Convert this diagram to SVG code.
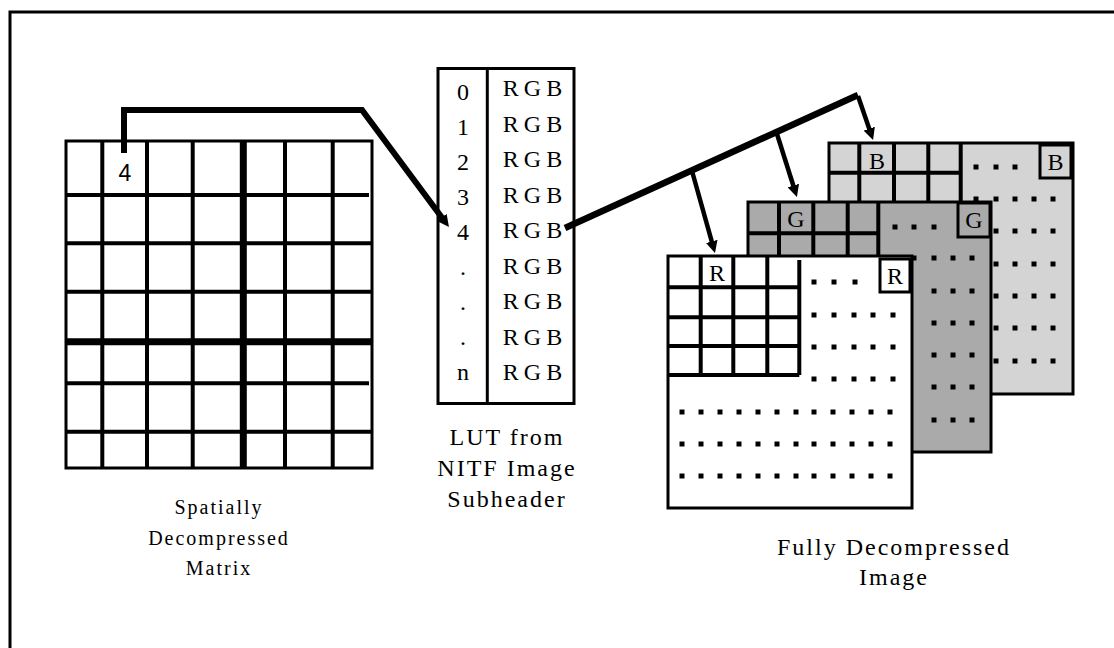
<svg xmlns="http://www.w3.org/2000/svg" width="1114" height="648" viewBox="0 0 1114 648">
<style>
.ser{font-family:"Liberation Serif","Times New Roman",serif;font-size:24px;fill:#000;text-anchor:middle}
.cap{letter-spacing:2px}
.sm{font-size:20px}
.rgb{letter-spacing:5px}
.grid{stroke:#000;stroke-width:4;fill:none}
.thick{stroke:#000;stroke-width:7;fill:none}
.box{stroke:#000;stroke-width:3}
.conn{stroke:#000;fill:none;stroke-linejoin:miter}
.dot{fill:#000}
</style>
<defs>
<marker id="ah" markerUnits="userSpaceOnUse" markerWidth="12" markerHeight="12" refX="1" refY="6" orient="auto">
<path d="M0,0 L12,6 L0,12 z" fill="#000"/>
</marker>
<rect id="d" width="5" height="5" x="-2.5" y="-2.5"/>
</defs>
<rect width="1114" height="648" fill="#fff"/>
<path d="M10,648 V12 H1114" fill="none" stroke="#000" stroke-width="3"/>

<g id="matrix">
<rect x="66" y="141" width="306" height="327" fill="#fff" stroke="#000" stroke-width="3"/>
<path class="grid" d="M102.3,141V468M147,141V468M192.7,141V468M285,141V468M332.7,141V468M66,195H369M66,243.3H372M66,291.7H372M66,383.3H369M66,431.7H372"/>
<path class="thick" d="M243.3,141V468M66,341.7H372"/>
<text x="125" y="181" style="font-family:'Liberation Sans',Arial,sans-serif;font-size:23px" text-anchor="middle">4</text>
<text class="ser cap sm" x="219" y="514">Spatially</text>
<text class="ser cap sm" x="219" y="545">Decompressed</text>
<text class="ser cap sm" x="219" y="575">Matrix</text>
</g>

<g id="lut">
<rect x="438" y="68.5" width="136" height="335" fill="#fff" stroke="#000" stroke-width="3"/>
<line x1="487.3" y1="68.5" x2="487.3" y2="403.5" stroke="#000" stroke-width="3"/>
<g class="ser">
<text x="463" y="100">0</text><text x="463" y="135">1</text><text x="463" y="170">2</text><text x="463" y="205">3</text><text x="463" y="240">4</text><text x="463" y="275">.</text><text x="463" y="310">.</text><text x="463" y="345">.</text><text x="463" y="380">n</text>
</g>
<g class="ser rgb">
<text x="535" y="96">RGB</text><text x="535" y="131.5">RGB</text><text x="535" y="167">RGB</text><text x="535" y="202.5">RGB</text><text x="535" y="238">RGB</text><text x="535" y="273.5">RGB</text><text x="535" y="309">RGB</text><text x="535" y="344.5">RGB</text><text x="535" y="380">RGB</text>
</g>
<text class="ser cap" x="507" y="445">LUT from</text>
<text class="ser cap" x="507" y="476">NITF Image</text>
<text class="ser cap" x="507" y="507">Subheader</text>
</g>

<g id="layerB">
<rect x="829" y="143" width="244" height="251" fill="#d4d4d4" class="box"/>
<path class="grid" d="M859.3,143V202M894,143V202M928.3,143V202M960.7,143V202M829,172.7H960.7"/>
<text class="ser" x="877" y="169">B</text>
<rect x="1040" y="145" width="31" height="33" fill="#d4d4d4" class="box"/>
<text class="ser" x="1055.5" y="170">B</text>
<g class="dot">
<use href="#d" x="976" y="167"/><use href="#d" x="996" y="167"/><use href="#d" x="1015" y="167"/>
<use href="#d" x="976" y="199"/><use href="#d" x="996" y="199"/><use href="#d" x="1015" y="199"/><use href="#d" x="1034" y="199"/><use href="#d" x="1053" y="199"/>
<use href="#d" x="996" y="231"/><use href="#d" x="1015" y="231"/><use href="#d" x="1034" y="231"/><use href="#d" x="1053" y="231"/>
<use href="#d" x="996" y="264"/><use href="#d" x="1015" y="264"/><use href="#d" x="1034" y="264"/><use href="#d" x="1053" y="264"/>
<use href="#d" x="996" y="296"/><use href="#d" x="1015" y="296"/><use href="#d" x="1034" y="296"/><use href="#d" x="1053" y="296"/>
<use href="#d" x="996" y="328"/><use href="#d" x="1015" y="328"/><use href="#d" x="1034" y="328"/><use href="#d" x="1053" y="328"/>
<use href="#d" x="996" y="361"/><use href="#d" x="1015" y="361"/><use href="#d" x="1034" y="361"/><use href="#d" x="1053" y="361"/>
</g>
</g>

<g id="layerG">
<rect x="748" y="202" width="243" height="250" fill="#aaaaaa" class="box"/>
<path class="grid" d="M779,202V256.7M813.3,202V256.7M847.7,202V256.7M878.3,202V256.7M748,233.3H878.3"/>
<text class="ser" x="796" y="227">G</text>
<rect x="958" y="203" width="32" height="34" fill="#aaaaaa" class="box"/>
<text class="ser" x="974" y="228">G</text>
<g class="dot">
<use href="#d" x="895" y="227"/><use href="#d" x="914" y="227"/><use href="#d" x="934" y="227"/>
<use href="#d" x="914" y="258"/><use href="#d" x="934" y="258"/><use href="#d" x="953" y="258"/><use href="#d" x="972" y="258"/>
<use href="#d" x="934" y="291"/><use href="#d" x="953" y="291"/><use href="#d" x="972" y="291"/>
<use href="#d" x="934" y="323"/><use href="#d" x="953" y="323"/><use href="#d" x="972" y="323"/>
<use href="#d" x="934" y="355"/><use href="#d" x="953" y="355"/><use href="#d" x="972" y="355"/>
<use href="#d" x="934" y="387"/><use href="#d" x="953" y="387"/><use href="#d" x="972" y="387"/>
<use href="#d" x="934" y="420"/><use href="#d" x="953" y="420"/><use href="#d" x="972" y="420"/>
</g>
</g>

<g id="layerR">
<rect x="668" y="256" width="244" height="252" fill="#fff" class="box"/>
<path class="grid" d="M700.7,256V375M733.3,256V375M767.3,256V375M799.3,260V375M668,287.3H799.3M668,317.3H799.3M668,346H799.3M668,375H799.3"/>
<text class="ser" x="717" y="281">R</text>
<rect x="880" y="259" width="30" height="33" fill="#fff" class="box"/>
<text class="ser" x="895" y="284">R</text>
<g class="dot">
<use href="#d" x="814" y="282"/><use href="#d" x="834" y="282"/><use href="#d" x="855" y="282"/>
<use href="#d" x="814" y="315"/><use href="#d" x="834" y="315"/><use href="#d" x="854" y="315"/><use href="#d" x="873" y="315"/><use href="#d" x="893" y="315"/>
<use href="#d" x="814" y="347"/><use href="#d" x="834" y="347"/><use href="#d" x="854" y="347"/><use href="#d" x="873" y="347"/><use href="#d" x="893" y="347"/>
<use href="#d" x="814" y="379"/><use href="#d" x="834" y="379"/><use href="#d" x="854" y="379"/><use href="#d" x="873" y="379"/><use href="#d" x="893" y="379"/>
<use href="#d" x="682" y="412"/><use href="#d" x="701" y="412"/><use href="#d" x="720" y="412"/><use href="#d" x="739" y="412"/><use href="#d" x="758" y="412"/><use href="#d" x="777" y="412"/><use href="#d" x="796" y="412"/><use href="#d" x="814" y="412"/><use href="#d" x="833" y="412"/><use href="#d" x="852" y="412"/><use href="#d" x="871" y="412"/><use href="#d" x="890" y="412"/>
<use href="#d" x="682" y="444"/><use href="#d" x="701" y="444"/><use href="#d" x="720" y="444"/><use href="#d" x="739" y="444"/><use href="#d" x="758" y="444"/><use href="#d" x="777" y="444"/><use href="#d" x="796" y="444"/><use href="#d" x="814" y="444"/><use href="#d" x="833" y="444"/><use href="#d" x="852" y="444"/><use href="#d" x="871" y="444"/><use href="#d" x="890" y="444"/>
<use href="#d" x="682" y="476"/><use href="#d" x="701" y="476"/><use href="#d" x="720" y="476"/><use href="#d" x="739" y="476"/><use href="#d" x="758" y="476"/><use href="#d" x="777" y="476"/><use href="#d" x="796" y="476"/><use href="#d" x="814" y="476"/><use href="#d" x="833" y="476"/><use href="#d" x="852" y="476"/><use href="#d" x="871" y="476"/><use href="#d" x="890" y="476"/>
</g>
<text class="ser cap" x="894" y="555">Fully Decompressed</text>
<text class="ser cap" x="894" y="585">Image</text>
</g>

<g id="connectors">
<path class="conn" stroke-width="6" d="M124,153 V110 H362 L442.4,218.2" marker-end="url(#ah)"/>
<path class="conn" stroke-width="6.5" d="M565,228 L858,95"/>
<path class="conn" stroke-width="4.5" d="M858,96 L869.5,129.6" marker-end="url(#ah)"/>
<path class="conn" stroke-width="4.5" d="M777,134 L793.6,186.5" marker-end="url(#ah)"/>
<path class="conn" stroke-width="4.5" d="M692,171 L712,242.4" marker-end="url(#ah)"/>
</g>
</svg>
